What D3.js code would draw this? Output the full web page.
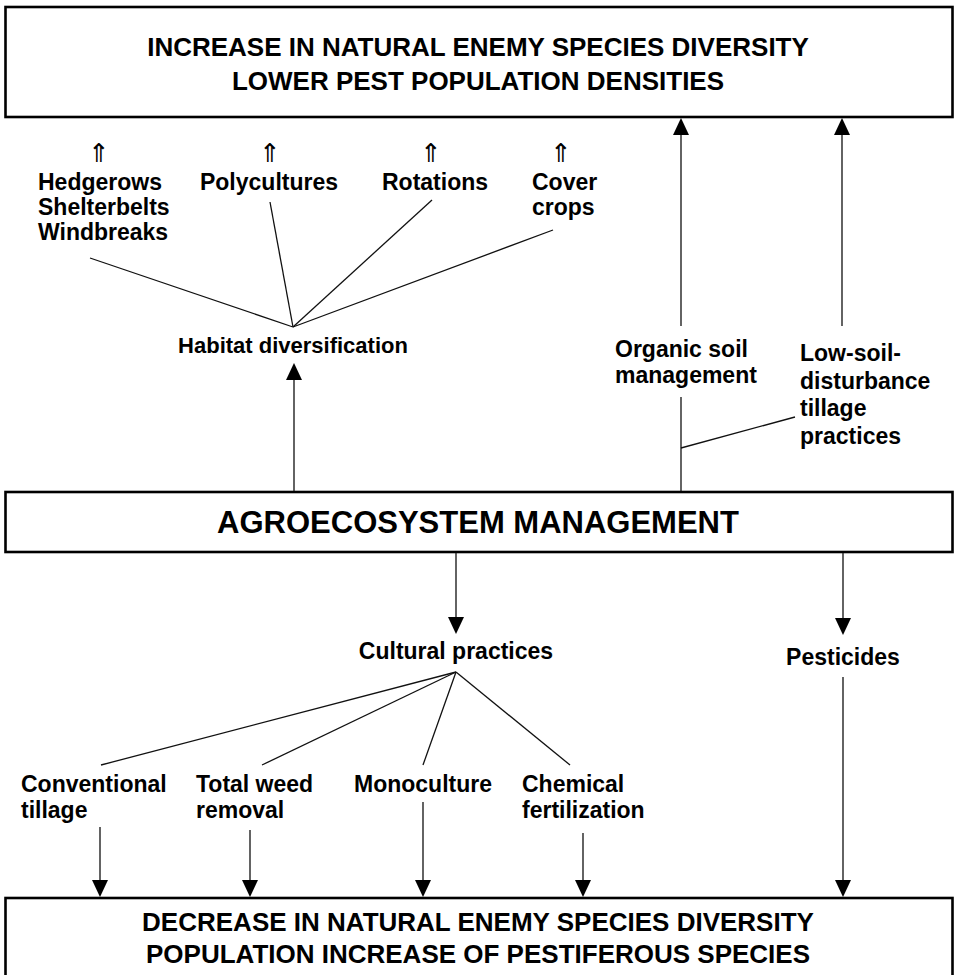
<!DOCTYPE html>
<html>
<head>
<meta charset="utf-8">
<script src="https://cdn.jsdelivr.net/npm/d3@7"></script>
<style>
  body { margin: 0; background: #fff; }
  svg { display: block; }
  text { font-family: "Liberation Sans", Arial, Helvetica, sans-serif; font-weight: bold; fill: #000; }
  text.up { font-family: "DejaVu Sans", sans-serif; font-weight: normal; }
</style>
</head>
<body>
<svg width="955" height="975"></svg>
<script>
// box titles
const topLines = ['INCREASE IN NATURAL ENEMY SPECIES DIVERSITY', 'LOWER PEST POPULATION DENSITIES'];
const midLines = ['AGROECOSYSTEM MANAGEMENT'];
const bottomLines = ['DECREASE IN NATURAL ENEMY SPECIES DIVERSITY', 'POPULATION INCREASE OF PESTIFEROUS SPECIES'];

// habitat diversification branch
const habitatLabel = 'Habitat diversification';
const habitatItems = [
    ['Hedgerows', 'Shelterbelts', 'Windbreaks'],
    ['Polycultures'],
    ['Rotations'],
    ['Cover', 'crops']
];

// soil branch
const organicLabel = ['Organic soil', 'management'];
const tillageLabel = ['Low-soil-', 'disturbance', 'tillage', 'practices'];

// cultural practices branch
const culturalLabel = 'Cultural practices';
const culturalItems = [
    ['Conventional', 'tillage'],
    ['Total weed', 'removal'],
    ['Monoculture'],
    ['Chemical', 'fertilization']
];
const pesticideLabel = 'Pesticides';

// layout (pixels)
const habitatPos = [[38, 'start'], [269, 'middle'], [435, 'middle'], [532, 'start']];
const habitatUp = [99, 270, 431, 561];
const habitatEnds = [[90, 258], [270, 202], [432, 200], [553, 230]];
const habitatHub = [293, 327];

const culturalPos = [21, 196, 354, 522];
const culturalEnds = [[101, 765], [262, 765], [423, 765], [570, 765]];
const culturalHub = [456, 672];
const culturalDown = [[100, 827], [250, 830], [423, 802], [583, 833]];

const svg = d3.select('svg');
const line = d3.line();

function arrow(x, y1, y2) {
    // line from y1 to y2 with a filled head at y2
    const dir = y2 > y1 ? 1 : -1;
    const hl = 17, hw = 8;
    svg.append('path')
        .attr('d', line([[x, y1], [x, y2 - dir * hl]]))
        .attr('stroke', '#222').attr('stroke-width', 1.4).attr('fill', 'none');
    svg.append('path')
        .attr('d', line([[x - hw, y2 - dir * hl], [x + hw, y2 - dir * hl], [x, y2]]) + 'Z')
        .attr('fill', '#000');
}

function seg(a, b) {
    svg.append('path')
        .attr('d', line([a, b]))
        .attr('stroke', '#111').attr('stroke-width', 1.3).attr('fill', 'none');
}

function box(y, h, lines, size, baselines) {
    svg.append('rect')
        .attr('x', 5.5).attr('y', y).attr('width', 947).attr('height', h)
        .attr('fill', 'none').attr('stroke', '#000').attr('stroke-width', 2.6);
    svg.selectAll(null).data(lines).enter().append('text')
        .attr('x', 478).attr('y', (d, i) => baselines[i])
        .attr('text-anchor', 'middle')
        .style('font-size', size + 'px')
        .text(d => d);
}

function block(lines, x, y0, anchor, step, size) {
    svg.append('g').selectAll('text').data(lines).enter().append('text')
        .attr('x', x).attr('y', (d, i) => y0 + i * step)
        .attr('text-anchor', anchor)
        .style('font-size', (size || 23) + 'px')
        .text(d => d);
}

// boxes
box(7, 110, topLines, 26, [56, 90]);
box(492, 60, midLines, 31, [533]);
box(898, 120, bottomLines, 26, [931, 963]);

// habitat diversification
arrow(294, 491, 363);
block([habitatLabel], 293, 353, 'middle', 0, 22);
habitatItems.forEach((lines, i) => block(lines, habitatPos[i][0], 190, habitatPos[i][1], 25));
habitatEnds.forEach(p => seg(p, habitatHub));
svg.selectAll('.up').data(habitatUp).enter().append('text')
    .attr('class', 'up')
    .attr('x', d => d).attr('y', 162)
    .attr('text-anchor', 'middle')
    .style('font-size', '26px')
    .text('\u21D1');

// soil management
arrow(681, 326, 118);
arrow(842, 326, 118);
block(organicLabel, 615, 357, 'start', 26);
block(tillageLabel, 800, 361, 'start', 27.5);
seg([681, 397], [681, 491]);
seg([681, 448], [795, 417]);

// cultural practices
arrow(456, 553, 634);
block([culturalLabel], 456, 659, 'middle', 0);
culturalItems.forEach((lines, i) => block(lines, culturalPos[i], 792, 'start', 26));
culturalEnds.forEach(p => seg(p, culturalHub));
culturalDown.forEach(d => arrow(d[0], d[1], 897));

// pesticides
arrow(843, 553, 635);
block([pesticideLabel], 843, 665, 'middle', 0);
arrow(843, 677, 897);
</script>
</body>
</html>
